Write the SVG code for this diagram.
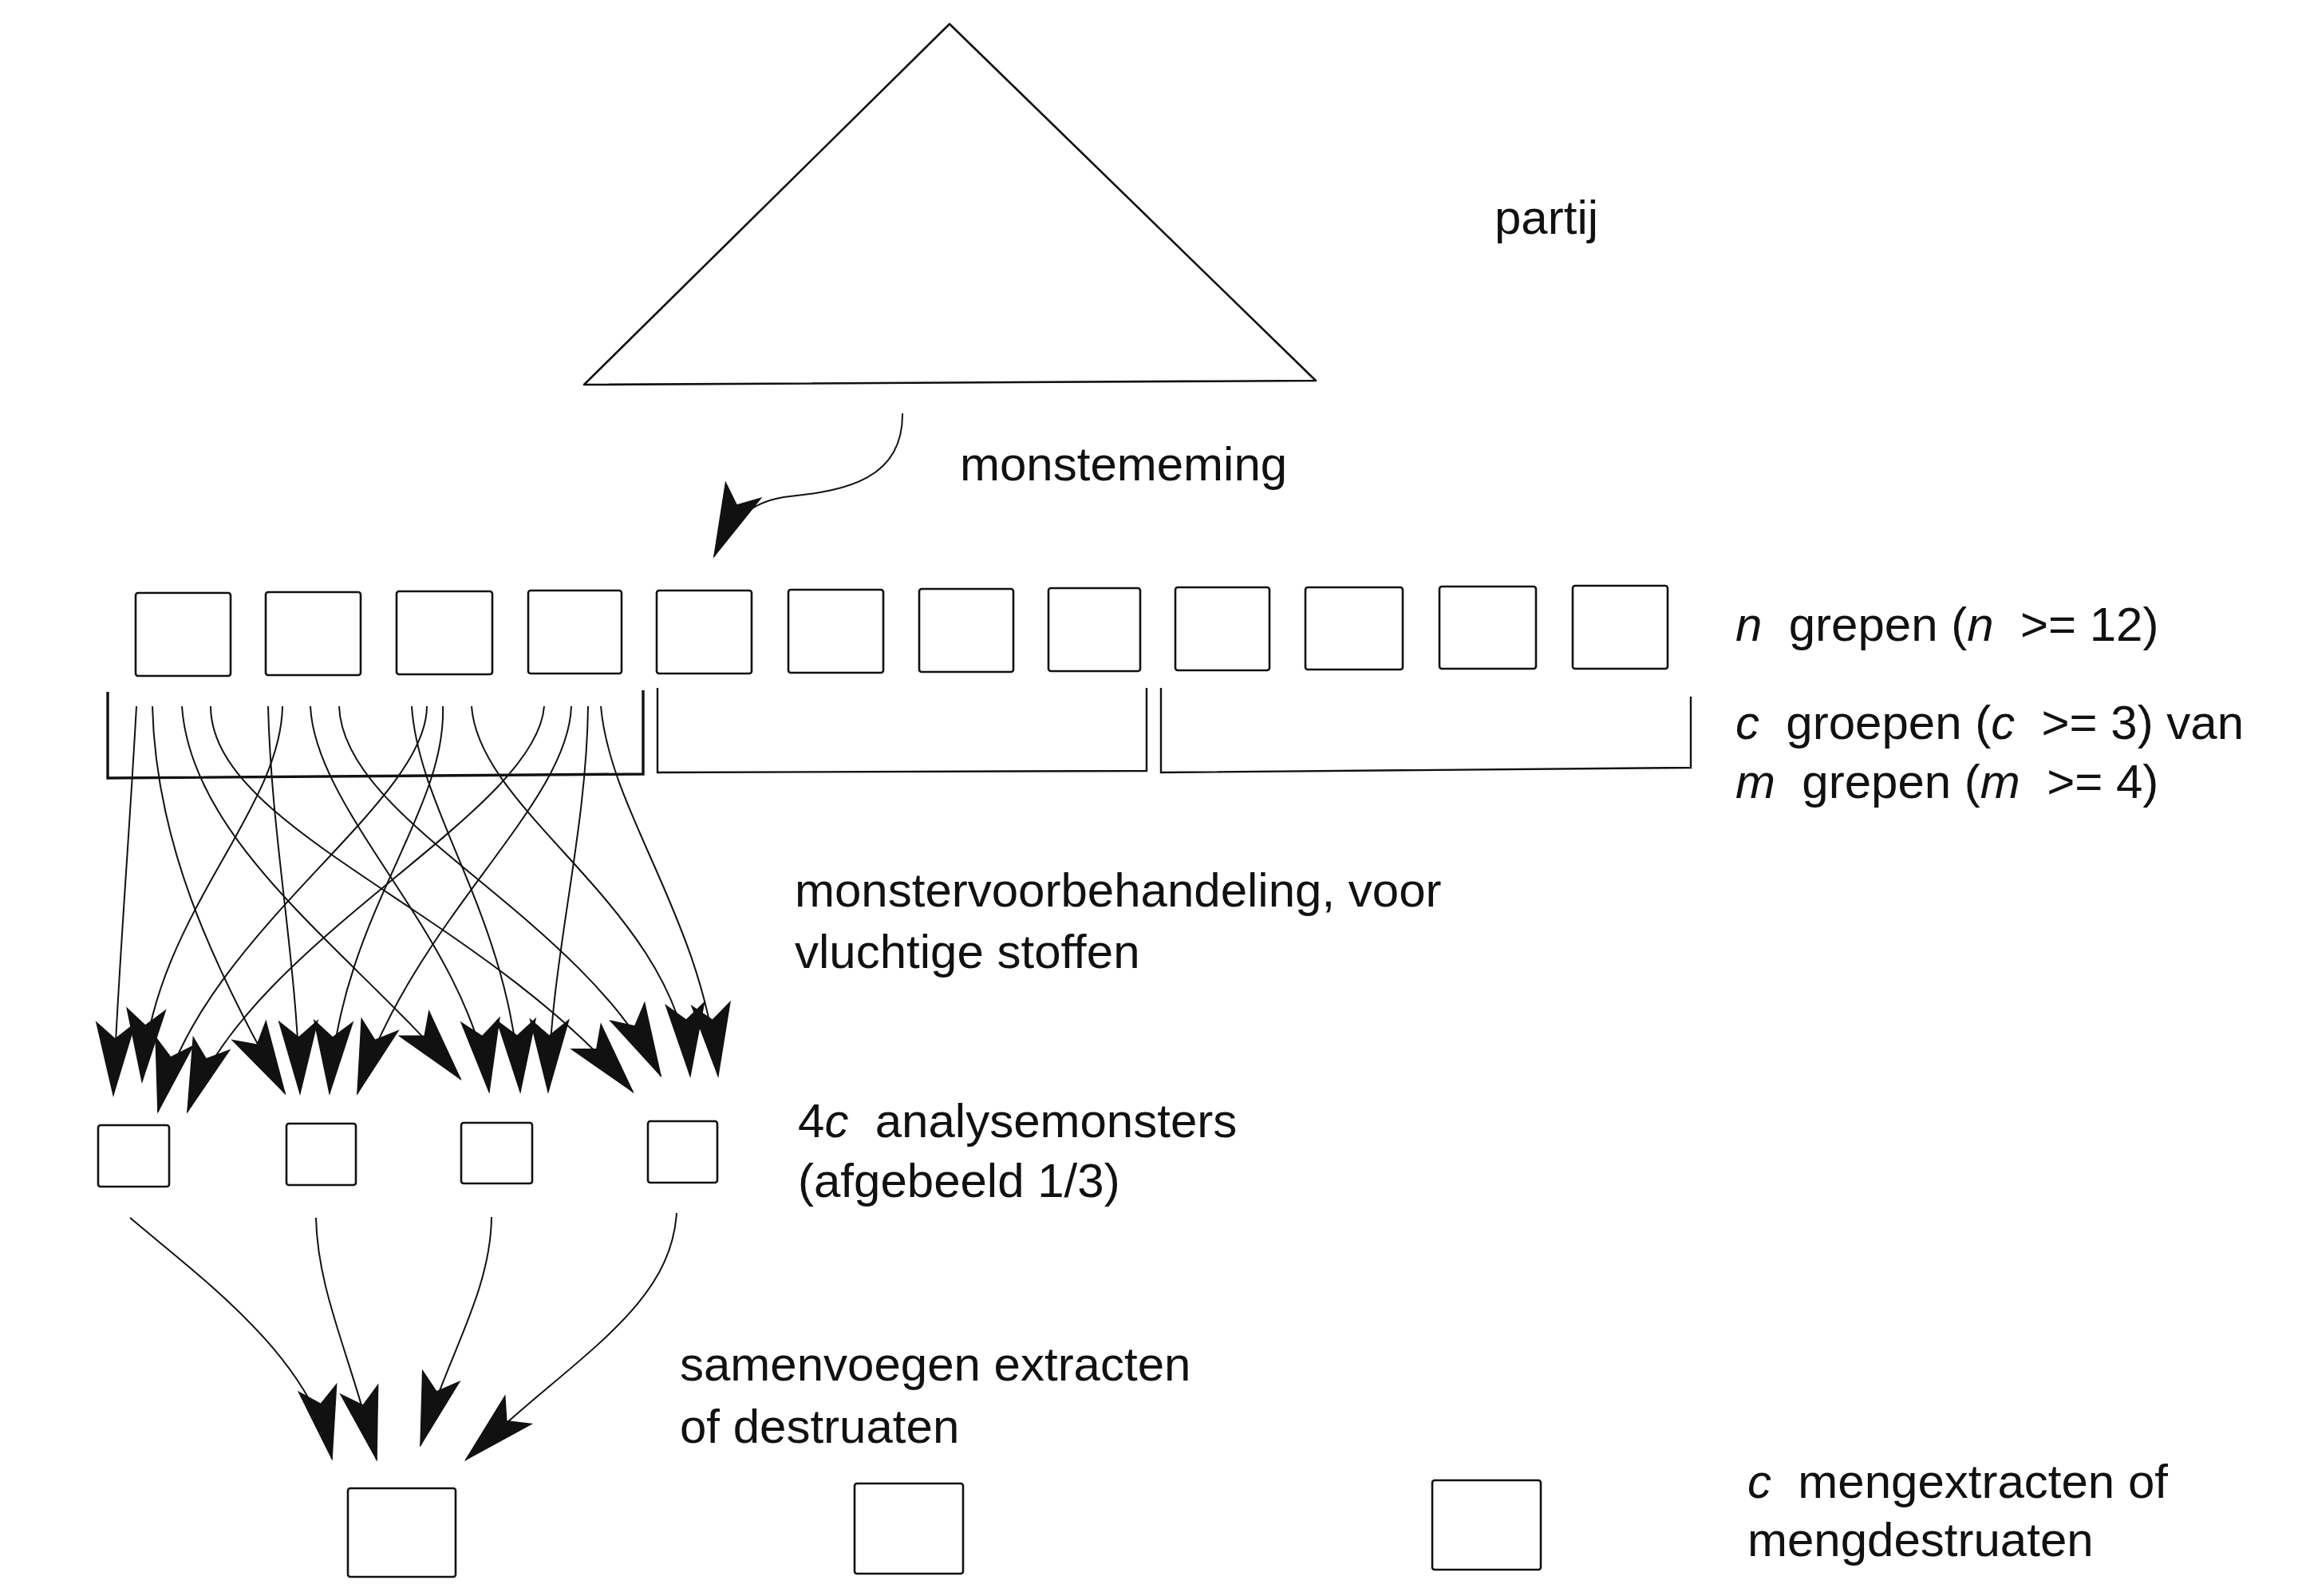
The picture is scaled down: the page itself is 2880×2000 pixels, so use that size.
<svg xmlns="http://www.w3.org/2000/svg" width="2880" height="2000" viewBox="0 0 2880 2000">
<defs>
<style>
.bg{fill:#ffffff}
.box{fill:none;stroke:#111;stroke-width:2.6;stroke-linejoin:round}
.tri{fill:none;stroke:#111;stroke-width:2.6;stroke-linejoin:round}
.brk{fill:none;stroke:#111;stroke-width:2.4}
.brk1{fill:none;stroke:#111;stroke-width:3.4}
.ln{fill:none;stroke:#111;stroke-width:2;marker-end:url(#ah)}
.t{font-family:"Liberation Sans",Arial,sans-serif;font-size:60px;fill:#111}
.i{font-style:italic}
</style>
<marker id="ah" markerUnits="userSpaceOnUse" viewBox="-95 -30 100 60" markerWidth="100" markerHeight="60" refX="0" refY="0" orient="auto" overflow="visible">
<path d="M0,0 L-90,-24 L-70,0 L-90,24 Z" fill="#111" stroke="#111" stroke-width="1.5" stroke-linejoin="miter"/>
</marker>
</defs>
<rect class="bg" x="0" y="0" width="2880" height="2000"/>

<g id="partij">
<polygon class="tri" points="1190,30 1649,477 732,482"/>
<text class="t" x="1873" y="293">partij</text>
</g>

<g id="grepen">
<g id="grep1"><rect class="box" x="170" y="743" width="119" height="104" rx="3"/></g>
<g id="grep2"><rect class="box" x="333" y="742" width="119" height="104" rx="3"/></g>
<g id="grep3"><rect class="box" x="497" y="741" width="120" height="104" rx="3"/></g>
<g id="grep4"><rect class="box" x="662" y="740" width="117" height="104" rx="3"/></g>
<g id="grep5"><rect class="box" x="823" y="740" width="119" height="104" rx="3"/></g>
<g id="grep6"><rect class="box" x="988" y="739" width="119" height="104" rx="3"/></g>
<g id="grep7"><rect class="box" x="1152" y="738" width="118" height="104" rx="3"/></g>
<g id="grep8"><rect class="box" x="1314" y="737" width="115" height="104" rx="3"/></g>
<g id="grep9"><rect class="box" x="1473" y="736" width="118" height="104" rx="3"/></g>
<g id="grep10"><rect class="box" x="1636" y="736" width="122" height="103" rx="3"/></g>
<g id="grep11"><rect class="box" x="1804" y="735" width="121" height="103" rx="3"/></g>
<g id="grep12"><rect class="box" x="1971" y="734" width="119" height="104" rx="3"/></g>
<text class="t" x="2175" y="803" xml:space="preserve"><tspan class="i">n</tspan>  grepen (<tspan class="i">n</tspan>  &gt;= 12)</text>
</g>

<g id="groepen">
<g id="groep1"><path class="brk1" d="M135,867 L135,975 L806,970 L806,865"/></g>
<g id="groep2"><path class="brk" d="M824,862 L824,968 L1437,966 L1437,862"/></g>
<g id="groep3"><path class="brk" d="M1455,862 L1455,968 L2119,962 L2119,873"/></g>
<text class="t" x="2175" y="926" xml:space="preserve"><tspan class="i">c</tspan>  groepen (<tspan class="i">c</tspan>  &gt;= 3) van</text>
<text class="t" x="2175" y="1000" xml:space="preserve"><tspan class="i">m</tspan>  grepen (<tspan class="i">m</tspan>  &gt;= 4)</text>
</g>

<g id="voorbehandeling">
<text class="t" x="996" y="1136">monstervoorbehandeling, voor</text>
<text class="t" x="996" y="1213">vluchtige stoffen</text>
</g>

<g id="analysemonsters">
<g id="am1"><rect class="box" x="123" y="1410" width="89" height="77" rx="3"/></g>
<g id="am2"><rect class="box" x="359" y="1408" width="87" height="77" rx="3"/></g>
<g id="am3"><rect class="box" x="578" y="1407" width="89" height="76" rx="3"/></g>
<g id="am4"><rect class="box" x="812" y="1405" width="87" height="77" rx="3"/></g>
<text class="t" x="1000" y="1425" xml:space="preserve">4<tspan class="i">c</tspan>  analysemonsters</text>
<text class="t" x="1000" y="1500">(afgebeeld 1/3)</text>
</g>

<g id="samenvoegen">
<text class="t" x="852" y="1730">samenvoegen extracten</text>
<text class="t" x="852" y="1808">of destruaten</text>
</g>

<g id="mengextracten">
<g id="me1"><rect class="box" x="436" y="1865" width="135" height="111" rx="3"/></g>
<g id="me2"><rect class="box" x="1071" y="1859" width="136" height="113" rx="3"/></g>
<g id="me3"><rect class="box" x="1795" y="1855" width="136" height="112" rx="3"/></g>
<text class="t" x="2190" y="1877" xml:space="preserve"><tspan class="i">c</tspan>  mengextracten of</text>
<text class="t" x="2190" y="1950">mengdestruaten</text>
</g>

<g id="monsterneming">
<text class="t" x="1203" y="602">monstememing</text>
</g>

<g id="connectors">
<path class="ln" d="M1131,518 C1132,600 1060,615 990,622 C950,626 918,645 895,697"/>
<!-- cluster 1 -->
<path class="ln" d="M171,885 C162,1050 146,1250 142,1372"/>
<path class="ln" d="M354,885 C352,1020 190,1150 178,1355"/>
<path class="ln" d="M535,885 C535,1010 250,1170 198,1393"/>
<path class="ln" d="M682,885 C672,1020 310,1180 235,1393"/>
<!-- cluster 2 -->
<path class="ln" d="M191,885 C195,1050 260,1200 357,1370"/>
<path class="ln" d="M336,885 C340,1050 372,1200 376,1370"/>
<path class="ln" d="M555,885 C560,1020 425,1150 413,1370"/>
<path class="ln" d="M716,885 C712,1010 520,1150 448,1370"/>
<!-- cluster 3 -->
<path class="ln" d="M228,885 C240,1060 450,1200 577,1352"/>
<path class="ln" d="M389,885 C395,1020 590,1180 613,1368"/>
<path class="ln" d="M516,885 C525,1020 640,1150 652,1368"/>
<path class="ln" d="M737,885 C735,1050 690,1200 687,1368"/>
<!-- cluster 4 -->
<path class="ln" d="M264,885 C265,1040 600,1140 793,1368"/>
<path class="ln" d="M425,885 C430,1030 720,1140 828,1348"/>
<path class="ln" d="M591,885 C600,1020 850,1140 865,1348"/>
<path class="ln" d="M753,885 C765,1020 880,1150 900,1348"/>
<!-- to mengextract -->
<path class="ln" d="M163,1526 C250,1600 390,1700 416,1828"/>
<path class="ln" d="M396,1526 C398,1620 440,1700 472,1829"/>
<path class="ln" d="M616,1525 C615,1620 560,1700 527,1811"/>
<path class="ln" d="M848,1520 C840,1640 720,1700 584,1829"/>
</g>
</svg>
